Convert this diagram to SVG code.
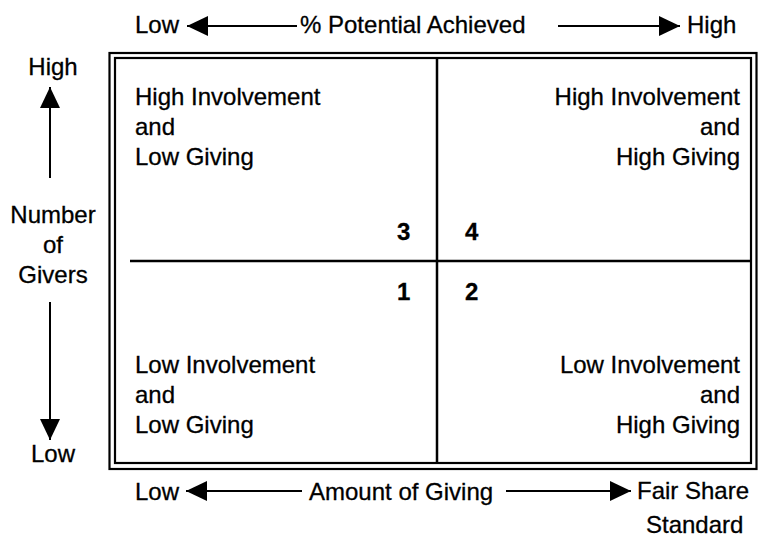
<svg xmlns="http://www.w3.org/2000/svg" width="758" height="540" viewBox="0 0 758 540">
  <style>
    text { font-family: "Liberation Sans", Arial, sans-serif; font-size: 24px; fill: #000; stroke: #000; stroke-width: 0.3; }
    .num { font-weight: bold; }
    .end { text-anchor: end; }
    .mid { text-anchor: middle; }
    .frame { fill: none; stroke: #000; }
    .axis { stroke: #000; stroke-width: 2; fill: none; }
  </style>
  <defs>
    <marker id="head" viewBox="0 0 21 20" refX="21" refY="10" markerWidth="21" markerHeight="20" markerUnits="userSpaceOnUse" orient="auto">
      <path d="M0,0 L21,10 L0,20 Z" fill="#000"/>
    </marker>
  </defs>

  <!-- double border of the grid -->
  <g id="frame">
    <rect class="frame" x="109.5" y="53" width="647" height="416" stroke-width="2.2"/>
    <rect class="frame" x="115" y="58" width="636" height="405" stroke-width="2.2"/>
  </g>

  <!-- quadrant dividers -->
  <g id="dividers">
    <line x1="437" y1="58" x2="437" y2="463" stroke="#000" stroke-width="2.5"/>
    <line x1="130" y1="261" x2="751" y2="261" stroke="#000" stroke-width="2.5"/>
  </g>

  <!-- axis arrows -->
  <g id="connectors">
    <line class="axis" x1="297" y1="26" x2="187" y2="26" marker-end="url(#head)"/>
    <line class="axis" x1="558" y1="26" x2="680" y2="26" marker-end="url(#head)"/>
    <line class="axis" x1="302" y1="491" x2="186" y2="491" marker-end="url(#head)"/>
    <line class="axis" x1="506" y1="491" x2="631" y2="491" marker-end="url(#head)"/>
    <line class="axis" x1="50" y1="178" x2="50" y2="87" marker-end="url(#head)"/>
    <line class="axis" x1="50" y1="302" x2="50" y2="440" marker-end="url(#head)"/>
  </g>

  <!-- axis labels -->
  <g id="top-axis">
    <text x="135" y="33">Low</text>
    <text x="300" y="33">% Potential Achieved</text>
    <text x="687" y="33">High</text>
  </g>
  <g id="bottom-axis">
    <text x="135" y="500">Low</text>
    <text x="309" y="500">Amount of Giving</text>
    <text x="637" y="499">Fair Share</text>
    <text x="646" y="533">Standard</text>
  </g>
  <g id="left-axis">
    <text class="mid" x="53" y="75">High</text>
    <text class="mid" x="53" y="223">Number</text>
    <text class="mid" x="53" y="253">of</text>
    <text class="mid" x="53" y="283">Givers</text>
    <text class="mid" x="53" y="462">Low</text>
  </g>

  <!-- quadrants -->
  <g id="quadrant-3">
    <text x="135" y="105">High Involvement</text>
    <text x="135" y="135">and</text>
    <text x="135" y="165">Low Giving</text>
    <text class="num" x="397" y="240">3</text>
  </g>
  <g id="quadrant-4">
    <text class="end" x="740" y="105">High Involvement</text>
    <text class="end" x="740" y="135">and</text>
    <text class="end" x="740" y="165">High Giving</text>
    <text class="num" x="465" y="240">4</text>
  </g>
  <g id="quadrant-1">
    <text class="num" x="397" y="300">1</text>
    <text x="135" y="373">Low Involvement</text>
    <text x="135" y="403">and</text>
    <text x="135" y="433">Low Giving</text>
  </g>
  <g id="quadrant-2">
    <text class="num" x="465" y="300">2</text>
    <text class="end" x="740" y="373">Low Involvement</text>
    <text class="end" x="740" y="403">and</text>
    <text class="end" x="740" y="433">High Giving</text>
  </g>
</svg>
